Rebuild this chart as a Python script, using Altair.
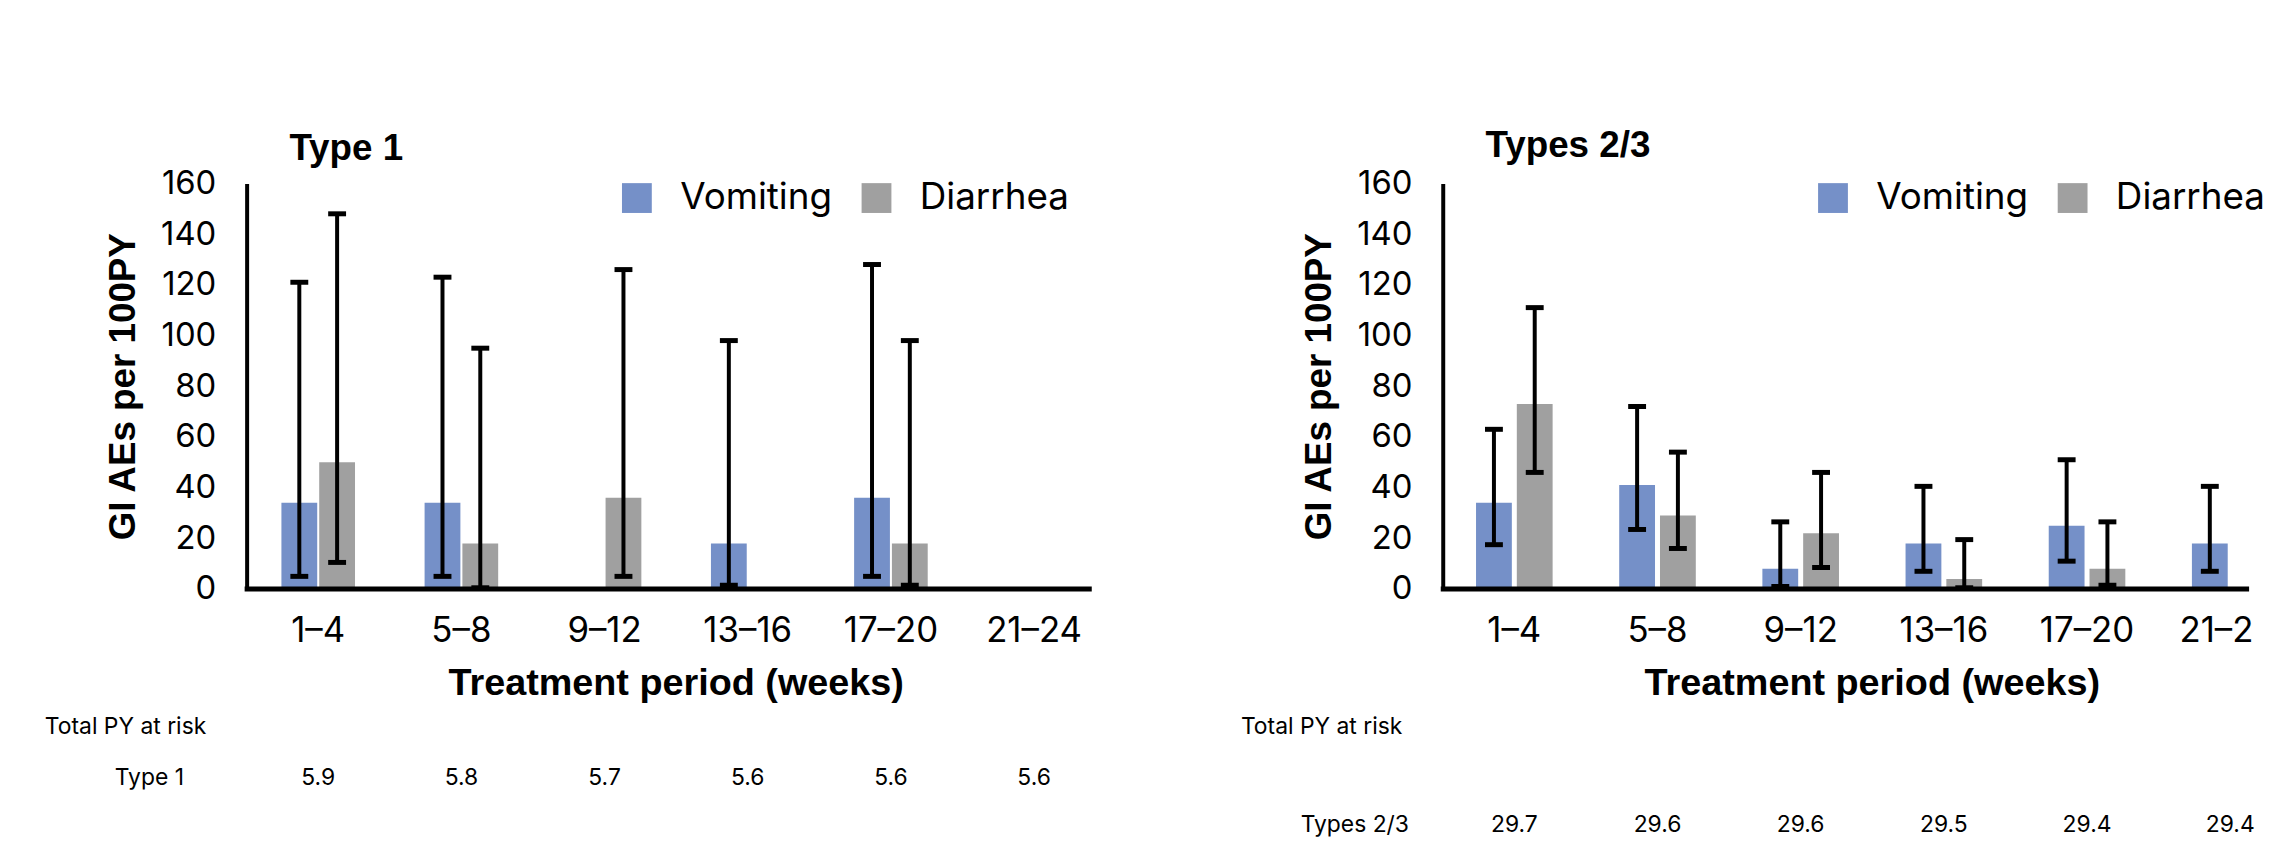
import altair as alt
import pandas as pd

periods = ["1–4", "5–8", "9–12", "13–16", "17–20", "21–24"]
series = ["Vomiting", "Diarrhea"]

# Type 1
t1_vomiting = [34, 34, 0, 18, 36, 0]
t1_vomiting_lo = [5, 5, None, 1.5, 5, None]
t1_vomiting_hi = [121, 123, None, 98, 128, None]
t1_diarrhea = [50, 18, 36, 0, 18, 0]
t1_diarrhea_lo = [10.5, 0.5, 5, None, 1.5, None]
t1_diarrhea_hi = [148, 95, 126, None, 98, None]
t1_py = ["5.9", "5.8", "5.7", "5.6", "5.6", "5.6"]

# Types 2/3
t23_vomiting = [34, 41, 8, 18, 25, 18]
t23_vomiting_lo = [17.5, 23.5, 1, 7, 11, 7]
t23_vomiting_hi = [63, 72, 26.5, 40.5, 51, 40.5]
t23_diarrhea = [73, 29, 22, 4, 8, 0]
t23_diarrhea_lo = [46, 16, 8.5, 0.5, 1.5, None]
t23_diarrhea_hi = [111, 54, 46, 19.5, 26.5, None]
t23_py = ["29.7", "29.6", "29.6", "29.5", "29.4", "29.4"]

BAND_RANGE = 864   # full extent of the six category bands
H = 408
BLUE = "#7590C8"
GRAY = "#A0A0A0"
TICKFONT = "Inter"
BOLDFONT = "Liberation Sans"


def panel(title, rowlabel, vom, vlo, vhi, dia, dlo, dhi, py, pin, opin,
          title_y, row_y, width, base_end, label_x, clip_last):
    rows = []
    for i, p in enumerate(periods):
        rows.append(dict(period=p, series="Vomiting", rate=vom[i], lo=vlo[i], hi=vhi[i]))
        rows.append(dict(period=p, series="Diarrhea", rate=dia[i], lo=dlo[i], hi=dhi[i]))
    df = pd.DataFrame(rows)
    bars_df = df[df["rate"] > 0]
    err = df.dropna(subset=["lo", "hi"])

    xs = alt.X(
        "period:N",
        sort=periods,
        scale=alt.Scale(domain=periods, paddingInner=pin, paddingOuter=pin / 2,
                        range=[0, BAND_RANGE]),
        axis=None,
    )
    xo = alt.XOffset("series:N", sort=series,
                     scale=alt.Scale(domain=series, paddingInner=opin, paddingOuter=0))
    yaxis = alt.Axis(values=list(range(0, 161, 20)), grid=False, ticks=False,
                     domain=True, domainColor="black", domainWidth=4,
                     labelFont=TICKFONT, labelFontSize=33, labelColor="black",
                     labelPadding=31, titleFont=BOLDFONT, titleFontSize=37,
                     titleFontWeight="bold", titleColor="black", titlePadding=18)
    yscale = alt.Scale(domain=[0, 160], nice=False)
    ytitle = "GI AEs per 100PY"

    bars = alt.Chart(bars_df).mark_bar().encode(
        x=xs, xOffset=xo,
        y=alt.Y("rate:Q", scale=yscale, axis=yaxis, title=ytitle),
        color=alt.Color("series:N", sort=series,
                        scale=alt.Scale(domain=series, range=[BLUE, GRAY]),
                        legend=alt.Legend(orient="none", legendX=374, legendY=-4,
                                          direction="horizontal", title=None,
                                          symbolType="square", symbolSize=900,
                                          symbolStrokeWidth=0, symbolOpacity=1,
                                          labelFont=TICKFONT, labelFontSize=37,
                                          labelColor="black", labelOffset=25,
                                          columnPadding=26, padding=0)),
    )
    rules = alt.Chart(err).mark_rule(color="black", strokeWidth=4).encode(
        x=xs, xOffset=xo,
        y=alt.Y("lo:Q", scale=yscale, axis=yaxis, title=ytitle),
        y2="hi:Q",
    )
    cap_lo = alt.Chart(err).mark_tick(color="black", size=18, thickness=5, opacity=1).encode(
        x=xs, xOffset=xo, y=alt.Y("lo:Q", scale=yscale, axis=yaxis, title=ytitle))
    cap_hi = alt.Chart(err).mark_tick(color="black", size=18, thickness=5, opacity=1).encode(
        x=xs, xOffset=xo, y=alt.Y("hi:Q", scale=yscale, axis=yaxis, title=ytitle))

    baseline = alt.Chart(pd.DataFrame({"v": [0]})).mark_rule(color="black", strokeWidth=5).encode(
        x=alt.value(-2), x2=alt.value(base_end), y=alt.value(H))

    # category labels and axis title of the category axis
    shown = periods[:-1] if clip_last else periods
    xlabels = alt.Chart(pd.DataFrame({"period": shown})).mark_text(
        align="center", baseline="alphabetic", font=TICKFONT, fontSize=35,
        color="black").encode(x=xs, y=alt.value(461), text="period:N")
    xtitle = alt.Chart(pd.DataFrame({"t": ["Treatment period (weeks)"]})).mark_text(
        align="center", baseline="alphabetic", font=BOLDFONT, fontSize=38,
        fontWeight="bold", color="black").encode(
        x=alt.value(BAND_RANGE / 2), y=alt.value(515), text="t:N")

    ttl = alt.Chart(pd.DataFrame({"t": [title]})).mark_text(
        align="left", baseline="alphabetic", font=BOLDFONT, fontSize=37,
        fontWeight="bold", color="black").encode(
        x=alt.value(43), y=alt.value(title_y), text="t:N")

    pytitle = alt.Chart(pd.DataFrame({"t": ["Total PY at risk"]})).mark_text(
        align="left", baseline="alphabetic", font=TICKFONT, fontSize=23, color="black").encode(
        x=alt.value(-203), y=alt.value(554), text="t:N")
    rowlab = alt.Chart(pd.DataFrame({"t": [rowlabel]})).mark_text(
        align="right", baseline="alphabetic", font=TICKFONT, fontSize=23, color="black").encode(
        x=alt.value(label_x), y=alt.value(row_y), text="t:N")
    pyvals = alt.Chart(pd.DataFrame({"period": periods, "py": py})).mark_text(
        align="center", baseline="alphabetic", font=TICKFONT, fontSize=23, color="black").encode(
        x=xs, y=alt.value(row_y), text="py:N")

    layers = [bars, rules, cap_lo, cap_hi, baseline, xlabels, xtitle, ttl,
              pytitle, rowlab, pyvals]
    if clip_last:
        # the last category label runs off the right edge of the picture
        last = alt.Chart(pd.DataFrame({"period": [periods[-1]]})).mark_text(
            align="left", baseline="alphabetic", font=TICKFONT, fontSize=35,
            color="black", dx=-51, limit=75, ellipsis="\u200b").encode(
            x=xs, y=alt.value(461), text="period:N")
        layers.append(last)

    return alt.layer(*layers).properties(width=width, height=H)


left = panel("Type 1", "Type 1", t1_vomiting, t1_vomiting_lo, t1_vomiting_hi,
             t1_diarrhea, t1_diarrhea_lo, t1_diarrhea_hi, t1_py, 0.486, 0.053,
             -24, 605, BAND_RANGE, 850, -63, False)
right = panel("Types 2/3", "Types 2/3", t23_vomiting, t23_vomiting_lo, t23_vomiting_hi,
              t23_diarrhea, t23_diarrhea_lo, t23_diarrhea_hi, t23_py, 0.465, 0.122,
              -27, 652, 814, 811, -34, True)

chart = alt.hconcat(left, right, spacing=136).resolve_scale(
    color="independent", x="independent", y="independent", xOffset="independent"
).resolve_legend(color="independent").properties(
    padding={"left": 37, "top": 117, "right": 0, "bottom": 0}
).configure_view(stroke=None)

chart.save("out.html", embed_options={"renderer": "svg", "actions": False})
